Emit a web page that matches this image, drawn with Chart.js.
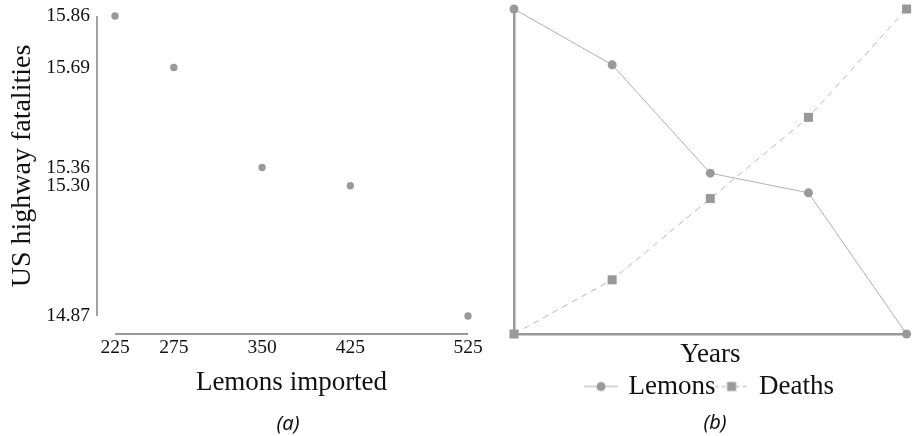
<!DOCTYPE html>
<html>
<head>
<meta charset="utf-8">
<script src="https://cdn.jsdelivr.net/npm/chart.js@4/dist/chart.umd.min.js"></script>
<style>
  html, body { margin: 0; padding: 0; background: #fff; }
  body { width: 913px; height: 436px; position: relative; overflow: hidden; }
  canvas { position: absolute; top: 0; }
  #left { left: 0; }
  #right { left: 490px; }
  .cap { position: absolute; font-family: "Noto Sans", "DejaVu Sans", sans-serif; font-style: italic; font-size: 20px; color: #111; transform: translate(-50%, -50%); white-space: nowrap; }
</style>
</head>
<body>
<canvas id="left" width="490" height="436"></canvas>
<canvas id="right" width="423" height="436"></canvas>
<div class="cap" style="left:288px; top:422px;">(a)</div>
<div class="cap" style="left:715px; top:421px;">(b)</div>
<script>
// ---- data ----
const lemonsImported = [225, 275, 350, 425, 525];
const highwayFatalities = [15.86, 15.69, 15.36, 15.30, 14.87];
const xTickValues = [225, 275, 350, 425, 525];
const yTickValues = [15.86, 15.69, 15.36, 15.30, 14.87];

const yearSlots = [1, 2, 3, 4, 5];
const lemonsTrend = [15.86, 15.69, 15.36, 15.30, 14.87];
const deathsTrend = [225, 275, 350, 425, 525];
const seriesNames = ['Lemons', 'Deaths'];

const SERIF = '"Liberation Serif", "DejaVu Serif", serif';
const GREY = '#999999';
const TEXT = '#111111';

// offset axis lines for panel (a)
const offsetAxes = {
  id: 'offsetAxes',
  afterDraw(chart) {
    const {ctx, chartArea, scales} = chart;
    const gap = 18;
    ctx.save();
    ctx.strokeStyle = GREY;
    ctx.lineWidth = 1.8;
    ctx.beginPath();
    const yx = chartArea.left - gap;
    ctx.moveTo(yx, scales.y.getPixelForValue(scales.y.max));
    ctx.lineTo(yx, scales.y.getPixelForValue(scales.y.min));
    const xy = chartArea.bottom + gap;
    ctx.moveTo(scales.x.getPixelForValue(scales.x.min), xy);
    ctx.lineTo(scales.x.getPixelForValue(scales.x.max), xy);
    ctx.stroke();
    ctx.restore();
  }
};

new Chart(document.getElementById('left'), {
  type: 'scatter',
  data: {
    datasets: [{
      label: 'Fatalities',
      data: lemonsImported.map((x, i) => ({x: x, y: highwayFatalities[i]})),
      pointRadius: 3.7,
      pointBackgroundColor: GREY,
      pointBorderWidth: 0,
      clip: false
    }]
  },
  options: {
    responsive: false,
    animation: false,
    devicePixelRatio: 1,
    layout: { padding: { top: 16, left: 0, right: 22, bottom: 33 } },
    plugins: { legend: { display: false }, tooltip: { enabled: false } },
    scales: {
      x: {
        type: 'linear', min: 225, max: 525,
        afterBuildTicks: s => { s.ticks = xTickValues.map(v => ({value: v})); },
        afterFit: s => { s.height = 87; s.paddingLeft = 0; s.paddingRight = 0; },
        grid: { display: false, drawTicks: false }, border: { display: false },
        ticks: { padding: 20, color: TEXT, font: { family: SERIF, size: 19.5 }, maxRotation: 0, autoSkip: false, callback: v => String(v) },
        title: { display: true, text: 'Lemons imported', color: TEXT, font: { family: SERIF, size: 27 }, padding: { top: 4, bottom: 4 } }
      },
      y: {
        type: 'linear', min: 14.87, max: 15.86,
        afterBuildTicks: s => { s.ticks = yTickValues.map(v => ({value: v})); },
        afterFit: s => { s.width = 115; s.paddingTop = 0; s.paddingBottom = 0; },
        grid: { display: false, drawTicks: false }, border: { display: false },
        ticks: { padding: 25, color: TEXT, font: { family: SERIF, size: 19.5 }, autoSkip: false, callback: v => Number(v).toFixed(2) },
        title: { display: true, text: 'US highway fatalities', color: TEXT, font: { family: SERIF, size: 28 }, padding: { top: 6, bottom: 0 } }
      }
    }
  },
  plugins: [offsetAxes]
});

function legendIcon(kind) {
  const c = document.createElement('canvas');
  c.width = 34; c.height = 12;
  const g = c.getContext('2d');
  g.strokeStyle = '#aaaaaa';
  g.lineWidth = 1;
  if (kind === 'rect') g.setLineDash([4, 3]);
  g.beginPath(); g.moveTo(0, 6); g.lineTo(34, 6); g.stroke();
  g.setLineDash([]);
  g.fillStyle = GREY;
  if (kind === 'rect') { g.fillRect(12.5, 1.5, 9, 9); }
  else { g.beginPath(); g.arc(17, 6, 4.5, 0, Math.PI * 2); g.fill(); }
  return c;
}
const icons = [legendIcon('circle'), legendIcon('rect')];

new Chart(document.getElementById('right'), {
  type: 'line',
  data: {
    labels: yearSlots,
    datasets: [{
      label: seriesNames[0],
      data: lemonsTrend,
      yAxisID: 'y',
      borderColor: '#b0b0b0', borderWidth: 1,
      pointStyle: 'circle', pointRadius: 4.5,
      pointBackgroundColor: GREY, pointBorderWidth: 0,
      clip: false
    }, {
      label: seriesNames[1],
      data: deathsTrend,
      yAxisID: 'y2',
      borderColor: '#b8b8b8', borderWidth: 1, borderDash: [6, 5],
      pointStyle: 'rect', pointRadius: 6.4,
      pointBackgroundColor: GREY, pointBorderWidth: 0,
      clip: false
    }]
  },
  options: {
    responsive: false,
    animation: false,
    devicePixelRatio: 1,
    layout: { padding: { top: 9, left: 24, right: 6, bottom: 26 } },
    plugins: {
      tooltip: { enabled: false },
      legend: {
        position: 'bottom',
        labels: {
          usePointStyle: true,
          pointStyleWidth: 28,
          padding: 2,
          color: TEXT,
          font: { family: SERIF, size: 27 },
          generateLabels: chart => chart.data.datasets.map((ds, i) => ({
            text: ds.label, pointStyle: icons[i], fillStyle: GREY, strokeStyle: GREY,
            lineWidth: 0, hidden: false, datasetIndex: i, fontColor: TEXT
          }))
        }
      }
    },
    scales: {
      x: {
        type: 'category', offset: false,
        afterFit: s => { s.height = 37; s.paddingLeft = 0; s.paddingRight = 0; },
        grid: { display: false, drawTicks: false },
        border: { display: true, color: GREY, width: 2.5 },
        ticks: { display: false },
        title: { display: true, text: 'Years', color: TEXT, font: { family: SERIF, size: 27 }, padding: { top: 2, bottom: 0 } }
      },
      y: {
        min: 14.87, max: 15.86,
        afterFit: s => { s.width = 0; s.paddingTop = 0; s.paddingBottom = 0; },
        grid: { display: false, drawTicks: false },
        border: { display: true, color: GREY, width: 2.5 },
        ticks: { display: false }
      },
      y2: { display: false, min: 225, max: 525 }
    }
  }
});
</script>
</body>
</html>
